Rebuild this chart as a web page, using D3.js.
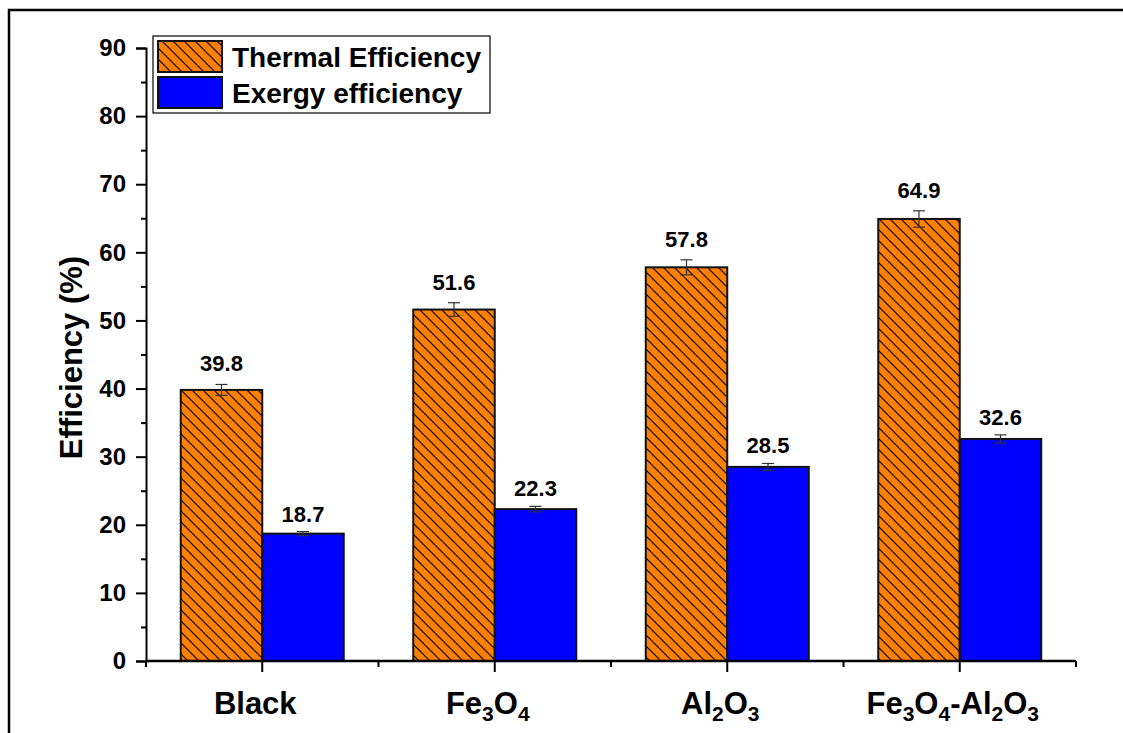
<!DOCTYPE html>
<html>
<head>
<meta charset="utf-8">
<script src="https://cdn.jsdelivr.net/npm/d3@7"></script>
<style>
  body { margin: 0; background: #fff; }
  text { font-family: Arial, "Liberation Sans", sans-serif; font-weight: bold; }
</style>
</head>
<body>
<svg id="chart"></svg>
<script>
// data
const categories = ['Black', 'Fe3O4', 'Al2O3', 'Fe3O4-Al2O3'];
const seriesNames = ['Thermal Efficiency', 'Exergy efficiency'];
const thermal = [39.8, 51.6, 57.8, 64.9];
const thermalErr = [0.8, 1.0, 1.1, 1.2];
const exergy = [18.7, 22.3, 28.5, 32.6];
const exergyErr = [0.3, 0.4, 0.5, 0.6];
const yTicks = [0, 10, 20, 30, 40, 50, 60, 70, 80, 90];

// label pieces: [text, isSubscript]
const catParts = {
  'Black': [['Black', false]],
  'Fe3O4': [['Fe', false], ['3', true], ['O', false], ['4', true]],
  'Al2O3': [['Al', false], ['2', true], ['O', false], ['3', true]],
  'Fe3O4-Al2O3': [['Fe', false], ['3', true], ['O', false], ['4', true], ['-Al', false], ['2', true], ['O', false], ['3', true]]
};

const width = 1123;
const height = 733;
const plotLeft = 146, plotRight = 1076, plotTop = 48, plotBottom = 661;

const svg = d3.select('#chart')
  .attr('width', width)
  .attr('height', height);

// hatch for the thermal bars
const defs = svg.append('defs');
const hatch = defs.append('pattern')
  .attr('id', 'hatch')
  .attr('patternUnits', 'userSpaceOnUse')
  .attr('width', 11)
  .attr('height', 11);
hatch.append('rect').attr('width', 11).attr('height', 11).attr('fill', '#ff8000');
hatch.append('path')
  .attr('d', 'M0,0 L11,11 M-5.5,5.5 L5.5,16.5 M5.5,-5.5 L16.5,5.5')
  .attr('stroke', '#000')
  .attr('stroke-width', 1.2);

// outer frame
svg.append('rect')
  .attr('x', 9).attr('y', 10)
  .attr('width', 1130).attr('height', 740)
  .attr('fill', 'none')
  .attr('stroke', '#000')
  .attr('stroke-width', 2.5);

const x = d3.scaleBand()
  .domain(categories)
  .range([plotLeft, plotRight])
  .paddingInner(0)
  .paddingOuter(0);

const yScale = d3.scaleLinear()
  .domain([0, 90])
  .range([plotBottom, plotTop]);

const barW = 81.5;
const fills = ['url(#hatch)', '#0000ff'];
const vals = [thermal, exergy];
const errs = [thermalErr, exergyErr];

const bars = svg.append('g');
vals.forEach((series, s) => {
  series.forEach((v, i) => {
    const cx = x(categories[i]) + x.bandwidth() / 2;
    const bx = s === 0 ? cx - barW : cx;
    bars.append('rect')
      .attr('x', bx)
      .attr('y', yScale(v))
      .attr('width', barW)
      .attr('height', yScale(0) - yScale(v))
      .attr('fill', fills[s])
      .attr('stroke', '#111')
      .attr('stroke-width', 2);

    const ex = bx + barW / 2;
    const e = errs[s][i];
    const eb = bars.append('g').attr('stroke', '#333').attr('stroke-width', 1.2);
    eb.append('line').attr('x1', ex).attr('x2', ex).attr('y1', yScale(v + e)).attr('y2', yScale(v - e));
    eb.append('line').attr('x1', ex - 6).attr('x2', ex + 6).attr('y1', yScale(v + e)).attr('y2', yScale(v + e));
    eb.append('line').attr('x1', ex - 6).attr('x2', ex + 6).attr('y1', yScale(v - e)).attr('y2', yScale(v - e));

    bars.append('text')
      .attr('x', ex)
      .attr('y', yScale(v + e) - (s === 0 ? 13 : 10))
      .attr('text-anchor', 'middle')
      .attr('font-size', 22)
      .text(v.toFixed(1));
  });
});

// y axis
const yAxis = svg.append('g')
  .attr('transform', `translate(${plotLeft},0)`)
  .call(d3.axisLeft(yScale).tickValues(yTicks).tickSize(10).tickPadding(10));
yAxis.selectAll('text').attr('font-size', 24).attr('fill', '#000')
  .style('font-family', 'Arial, "Liberation Sans", sans-serif').style('font-weight', 'bold');
yAxis.select('.domain').attr('stroke-width', 2);
yAxis.selectAll('.tick line').attr('stroke-width', 2);
svg.append('g')
  .attr('transform', `translate(${plotLeft},0)`)
  .call(d3.axisLeft(yScale).tickValues(yTicks.slice(0, -1).map(t => t + 5)).tickSize(5).tickFormat(''))
  .call(g => g.select('.domain').remove())
  .selectAll('.tick line').attr('stroke-width', 2);

// x axis: long ticks at group centres, short ticks at group edges
svg.append('line')
  .attr('x1', plotLeft).attr('x2', plotRight)
  .attr('y1', plotBottom).attr('y2', plotBottom)
  .attr('stroke', '#000').attr('stroke-width', 2.5);
const xAxis = svg.append('g')
  .attr('transform', `translate(0,${plotBottom})`)
  .call(d3.axisBottom(x).tickSize(11).tickFormat(''));
xAxis.select('.domain').remove();
xAxis.selectAll('.tick line').attr('stroke-width', 2);
const edges = categories.map(c => x(c)).concat([plotRight]);
svg.append('g').selectAll('line')
  .data(edges)
  .join('line')
  .attr('x1', d => d).attr('x2', d => d)
  .attr('y1', plotBottom).attr('y2', plotBottom + 6)
  .attr('stroke', '#000').attr('stroke-width', 2);

// category labels with subscripts
categories.forEach(c => {
  const parts = catParts[c];
  const t = svg.append('text')
    .attr('x', x(c) + x.bandwidth() / 2 - 7)
    .attr('y', 714)
    .attr('text-anchor', 'middle')
    .attr('font-size', 31);
  parts.forEach(([txt, sub], i) => {
    let dy = 0;
    if (sub) dy = 7;
    else if (i > 0 && parts[i - 1][1]) dy = -7;
    t.append('tspan')
      .attr('font-size', sub ? 21 : 31)
      .attr('dy', dy)
      .text(txt);
  });
});

// y title
svg.append('text')
  .attr('transform', `translate(82,${(plotTop + plotBottom) / 2 + 3}) rotate(-90)`)
  .attr('text-anchor', 'middle')
  .attr('font-size', 31)
  .text('Efficiency (%)');

// legend
const legend = svg.append('g');
legend.append('rect')
  .attr('x', 153).attr('y', 36)
  .attr('width', 337).attr('height', 77)
  .attr('fill', '#fff').attr('stroke', '#000').attr('stroke-width', 1.2);
seriesNames.forEach((n, i) => {
  legend.append('rect')
    .attr('x', 158).attr('y', 41 + i * 36)
    .attr('width', 64).attr('height', 31)
    .attr('fill', fills[i])
    .attr('stroke', '#111').attr('stroke-width', 2);
  legend.append('text')
    .attr('x', 232).attr('y', 67 + i * 36)
    .attr('font-size', 28)
    .text(n);
});
</script>
</body>
</html>
